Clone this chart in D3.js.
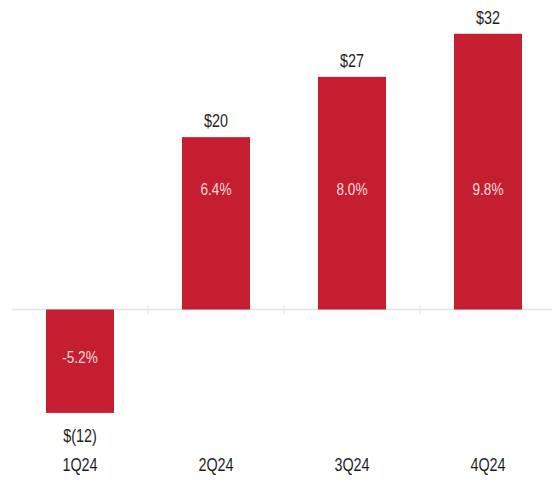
<!DOCTYPE html>
<html>
<head>
<meta charset="utf-8">
<script src="https://cdn.jsdelivr.net/npm/d3@7"></script>
<style>
  html, body { margin: 0; padding: 0; background: #fff; }
  svg { display: block; }
  text { font-family: "Liberation Sans Narrow", "Arial Narrow", "Liberation Sans", Arial, sans-serif; }
</style>
</head>
<body>
<svg id="chart" width="552" height="483"></svg>
<script>
// Quarterly results ($ values) with margin percentages
const quarters = ["1Q24", "2Q24", "3Q24", "4Q24"];
const values = [-12, 20, 27, 32];
const valueLabels = ["$(12)", "$20", "$27", "$32"];
const marginLabels = ["-5.2%", "6.4%", "8.0%", "9.8%"];

const W = 552, H = 483;
const barColor = "#c41e30";
const narrow = 0.8; // horizontal squeeze for a condensed look
const svg = d3.select("#chart");

const x = d3.scaleBand()
  .domain(quarters)
  .range([12, 556])
  .paddingInner(0.5)
  .paddingOuter(0.25);

const y = d3.scaleLinear()
  .domain([-12, 32])
  .range([412.9, 33.76]);

// zero line with separators between categories
const y0 = y(0);
svg.append("line")
  .attr("x1", 12).attr("x2", W)
  .attr("y1", y0).attr("y2", y0)
  .attr("stroke", "#e4e4e4").attr("stroke-width", 1.5);

const step = x.step();
svg.selectAll(".sep")
  .data(quarters.slice(1))
  .join("line")
  .attr("class", "sep")
  .attr("x1", d => x(d) - step * 0.25)
  .attr("x2", d => x(d) - step * 0.25)
  .attr("y1", y0 - 4).attr("y2", y0 + 5)
  .attr("stroke", "#e4e4e4").attr("stroke-width", 1);

// bars
svg.selectAll(".bar")
  .data(values)
  .join("rect")
  .attr("class", "bar")
  .attr("x", (d, i) => x(quarters[i]))
  .attr("width", x.bandwidth())
  .attr("y", d => Math.min(y(d), y0))
  .attr("height", d => Math.abs(y(d) - y0))
  .attr("fill", barColor);

const cx = i => x(quarters[i]) + x.bandwidth() / 2;
const place = (tx, ty) => `translate(${tx},${ty}) scale(${narrow},1)`;

// dollar value labels outside bars
svg.selectAll(".val")
  .data(values)
  .join("text")
  .attr("class", "val")
  .attr("transform", (d, i) => place(cx(i), d >= 0 ? y(d) - 10 : y(d) + 29))
  .attr("text-anchor", "middle")
  .attr("font-size", 18)
  .attr("fill", "#1e1e1e")
  .text((d, i) => valueLabels[i]);

// margin labels inside bars
svg.selectAll(".pct")
  .data(values)
  .join("text")
  .attr("class", "pct")
  .attr("transform", (d, i) => place(cx(i), d >= 0 ? y(14) : y(-5.5)))
  .attr("dy", "0.35em")
  .attr("text-anchor", "middle")
  .attr("font-size", 17)
  .attr("fill", "#f6dcdf")
  .text((d, i) => marginLabels[i]);

// category labels
svg.selectAll(".cat")
  .data(quarters)
  .join("text")
  .attr("class", "cat")
  .attr("transform", d => place(x(d) + x.bandwidth() / 2, 471))
  .attr("text-anchor", "middle")
  .attr("font-size", 18)
  .attr("fill", "#1e1e1e")
  .text(d => d);
</script>
</body>
</html>
